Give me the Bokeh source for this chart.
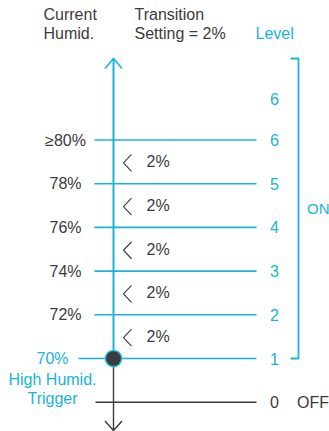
from bokeh.plotting import figure
from bokeh.models import Range1d
from bokeh.core.properties import value
from bokeh.embed import file_html
from bokeh.resources import INLINE

# ---- data ----
levels = [0, 1, 2, 3, 4, 5, 6]
level_labels = ["0", "1", "2", "3", "4", "5", "6"]
humidity_labels = ["", "70%", "72%", "74%", "76%", "78%", "\u226580%"]
top_level_label = "6"
transition_labels = ["2%", "2%", "2%", "2%", "2%"]
state_off = "OFF"
state_on = "ON"
header_humid = ["Current", "Humid."]
header_trans = ["Transition", "Setting = 2%"]
header_level = "Level"
trigger_text = ["High Humid.", "Trigger"]
trigger_level = 1

# ---- style ----
CYAN = "#18b4da"
DARK = "#3b3b3d"
FONT = value("Liberation Sans")
FS = "16px"
W, H = 329, 431
PX = 43.7          # pixels per level
BASE = 401.7       # page y of level 0


def ly(page_y):
    """convert a page-pixel y (layout) to level units"""
    return (BASE - page_y) / PX


p = figure(width=W, height=H, output_backend="svg", toolbar_location=None,
           x_range=Range1d(0, W), y_range=Range1d(ly(H), ly(0)),
           x_axis_type=None, y_axis_type=None, min_border=0)
p.outline_line_color = None
p.grid.visible = False
p.background_fill_color = "white"

AX = 113
LINE_END = 256
top_level = ly(58)

# horizontal level lines
on_levels = [l for l in levels if l > 0]
p.segment(x0=[78 if l == trigger_level else 94 for l in on_levels], x1=[LINE_END] * len(on_levels),
          y0=on_levels, y1=on_levels, line_color=CYAN, line_width=1.6)
p.segment(x0=[95], x1=[LINE_END], y0=[levels[0]], y1=[levels[0]], line_color=DARK, line_width=1.4)

# vertical axis
p.line(x=[AX, AX], y=[trigger_level, top_level], line_color=CYAN, line_width=2)
p.line(x=[AX, AX], y=[trigger_level, ly(430)], line_color=DARK, line_width=1.4)
# arrow heads
p.line(x=[AX - 8.5, AX, AX + 8.5], y=[ly(68), top_level, ly(68)], line_color=CYAN, line_width=1.6)
p.line(x=[AX - 8.5, AX, AX + 8.5], y=[ly(420.5), ly(430), ly(420.5)], line_color=DARK, line_width=1.4)

# trigger dot
p.scatter(x=[AX], y=[trigger_level], size=16, fill_color=DARK, line_color=CYAN, line_width=1.5)

# transition chevrons and labels
mids = [(levels[i] + levels[i + 1]) / 2 for i in range(1, len(levels) - 1)]
cx, cy = [], []
for m in mids:
    cx.append([131, 123, 131])
    cy.append([m + 7.5 / PX, m - 1 / PX, m - 9.5 / PX])
p.multi_line(xs=cx, ys=cy, line_color=DARK, line_width=1.1)
p.text(x=[146] * len(mids), y=mids, text=transition_labels, text_font=FONT, text_font_size=FS,
       text_color=DARK, text_align="left", text_baseline="middle")

# left humidity labels
hl = [l for l in levels if l > trigger_level]
p.text(x=[65] * len(hl), y=hl, text=[humidity_labels[l] for l in hl], text_font=FONT,
       text_font_size=FS, text_color=DARK, text_align="center", text_baseline="middle")
p.text(x=[52], y=[trigger_level], text=[humidity_labels[trigger_level]], text_font=FONT,
       text_font_size=FS, text_color=CYAN, text_align="center", text_baseline="middle")
p.text(x=[52, 52], y=[ly(379), ly(398)], text=trigger_text, text_font=FONT,
       text_font_size=FS, text_color=CYAN, text_align="center", text_baseline="middle")

# right level numbers
p.text(x=[274] * len(on_levels), y=on_levels, text=[level_labels[l] for l in on_levels],
       text_font=FONT, text_font_size=FS, text_color=CYAN, text_align="center", text_baseline="middle")
p.text(x=[274], y=[ly(98)], text=[top_level_label], text_font=FONT, text_font_size=FS,
       text_color=CYAN, text_align="center", text_baseline="middle")
p.text(x=[274], y=[levels[0]], text=[level_labels[0]], text_font=FONT, text_font_size=FS,
       text_color=DARK, text_align="center", text_baseline="middle")

# bracket for ON
p.line(x=[290, 298, 298, 290], y=[trigger_level, trigger_level, top_level, top_level],
       line_color=CYAN, line_width=1.8)
p.text(x=[306.5], y=[(trigger_level + top_level) / 2], text=[state_on], text_font=FONT,
       text_font_size="15px", text_color=CYAN, text_align="left", text_baseline="middle")
p.text(x=[296.5], y=[levels[0]], text=[state_off], text_font=FONT, text_font_size="16px",
       text_color=DARK, text_align="left", text_baseline="middle")

# headers
p.text(x=[43, 43], y=[ly(13.5), ly(32.5)], text=header_humid, text_font=FONT, text_font_size=FS,
       text_color=DARK, text_align="left", text_baseline="middle")
p.text(x=[134, 134], y=[ly(13.5), ly(32.5)], text=header_trans, text_font=FONT, text_font_size=FS,
       text_color=DARK, text_align="left", text_baseline="middle")
p.text(x=[255], y=[ly(32.5)], text=[header_level], text_font=FONT, text_font_size=FS,
       text_color=CYAN, text_align="left", text_baseline="middle")

open("out.html", "w").write(file_html(p, INLINE))
